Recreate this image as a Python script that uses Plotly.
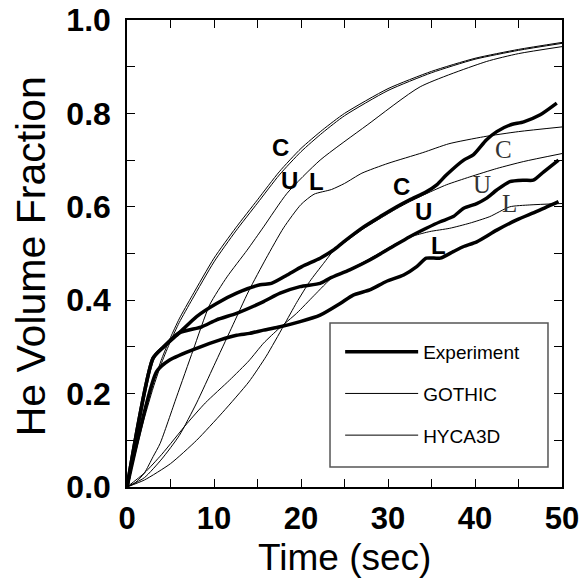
import plotly.graph_objects as go

# ---------------- data ----------------
# Experiment (thick)
exp_c_t = [0, 3.0, 4.2, 6.0, 8.0, 10.3, 12.6, 15.3, 16.6, 18.4, 20.1, 22.2, 23.7, 24.9, 27.2, 29.1, 31.0, 32.5, 34.4, 35.6, 36.7, 38.7, 39.8, 41.3, 42.5, 44.0, 45.6, 47.5, 49.4]
exp_c_y = [0, 0.276, 0.30, 0.33, 0.365, 0.393, 0.415, 0.433, 0.436, 0.454, 0.472, 0.49, 0.507, 0.525, 0.557, 0.579, 0.60, 0.615, 0.632, 0.647, 0.668, 0.70, 0.711, 0.743, 0.761, 0.775, 0.782, 0.797, 0.822]

exp_u_t = [0, 3.0, 4.2, 6.0, 8.6, 10.3, 12.6, 15.7, 17.6, 19.9, 22.2, 23.3, 25.6, 27.9, 30.2, 32.5, 34.4, 36.0, 37.5, 38.7, 40.2, 41.3, 42.5, 44.0, 45.6, 46.7, 47.9, 49.6]
exp_u_y = [0, 0.276, 0.30, 0.33, 0.343, 0.358, 0.372, 0.397, 0.415, 0.429, 0.436, 0.447, 0.465, 0.486, 0.511, 0.536, 0.554, 0.568, 0.579, 0.597, 0.607, 0.618, 0.636, 0.654, 0.657, 0.657, 0.675, 0.70]

exp_l_t = [0, 3.4, 4.9, 8.0, 10.7, 12.6, 14.1, 15.7, 17.6, 19.9, 22.2, 24.5, 26.0, 27.9, 29.8, 31.8, 33.3, 34.4, 36.0, 37.5, 38.7, 40.2, 42.5, 44.8, 47.1, 49.6]
exp_l_y = [0, 0.247, 0.272, 0.297, 0.315, 0.325, 0.329, 0.336, 0.343, 0.354, 0.368, 0.393, 0.411, 0.422, 0.44, 0.454, 0.472, 0.49, 0.49, 0.504, 0.515, 0.525, 0.55, 0.572, 0.59, 0.611]

# GOTHIC (thin, fast rising)
got_c_t = [0, 1, 2, 3, 4, 5, 6, 7.5, 10, 12.5, 15, 17.5, 20, 22.5, 25, 30, 35, 40, 45, 50]
got_c_y = [0, 0.08, 0.155, 0.22, 0.275, 0.32, 0.36, 0.41, 0.49, 0.555, 0.615, 0.675, 0.725, 0.765, 0.80, 0.853, 0.89, 0.918, 0.937, 0.952]

got_u_t = [0, 1, 2, 3, 4, 5, 6, 7.5, 10, 12.5, 15, 17.5, 20, 22.5, 25, 30, 35, 40, 45, 50]
got_u_y = [0, 0.075, 0.148, 0.212, 0.267, 0.312, 0.352, 0.402, 0.482, 0.548, 0.608, 0.668, 0.718, 0.759, 0.795, 0.849, 0.887, 0.916, 0.935, 0.95]

got_l_t = [0, 1, 2, 3, 3.8, 5.7, 7.6, 9.5, 11.5, 13.8, 15.7, 18.4, 22.2, 27.6, 33.7, 41.3, 45, 50]
got_l_y = [0, 0.01, 0.03, 0.065, 0.093, 0.193, 0.293, 0.39, 0.45, 0.507, 0.557, 0.629, 0.70, 0.775, 0.857, 0.911, 0.928, 0.943]

# HYCA3D (thin, slower)
hyc_c_t = [0, 2, 4, 6, 8, 10, 12, 14, 16, 18, 20, 21.5, 23.5, 25, 27, 30, 34, 37, 41, 45, 50]
hyc_c_y = [0, 0.02, 0.06, 0.11, 0.18, 0.26, 0.34, 0.42, 0.49, 0.555, 0.605, 0.627, 0.637, 0.65, 0.672, 0.693, 0.716, 0.735, 0.75, 0.761, 0.771]

hyc_u_t = [0, 2, 5, 8, 11, 14, 16, 18, 19.5, 21, 22.6, 23.7, 24.9, 27.2, 29.1, 31.0, 32.5, 34.4, 36.7, 39.4, 42.5, 45.6, 50]
hyc_u_y = [0, 0.015, 0.05, 0.10, 0.16, 0.225, 0.28, 0.345, 0.395, 0.44, 0.479, 0.505, 0.522, 0.553, 0.575, 0.596, 0.611, 0.628, 0.647, 0.664, 0.682, 0.697, 0.714]

hyc_l_t = [0, 2, 4, 6.9, 9, 11.8, 14, 15.7, 17.5, 19.5, 21.5, 23.7, 26, 28.3, 31, 33, 34.8, 37.1, 39.4, 41.7, 44, 46.3, 50]
hyc_l_y = [0, 0.03, 0.07, 0.136, 0.18, 0.229, 0.27, 0.308, 0.34, 0.372, 0.41, 0.45, 0.47, 0.493, 0.522, 0.538, 0.547, 0.554, 0.565, 0.579, 0.60, 0.604, 0.607]

# labels
bold_lab_text = ["C", "U", "L", "C", "U", "L"]
bold_lab_t = [17.6, 18.7, 21.8, 31.6, 34.1, 35.8]
bold_lab_y = [0.726, 0.657, 0.654, 0.643, 0.59, 0.518]
serif_lab_text = ["C", "U", "L"]
serif_lab_t = [43.3, 40.8, 44.0]
serif_lab_y = [0.722, 0.647, 0.607]

x_ticks = [0, 5, 10, 15, 20, 25, 30, 35, 40, 45, 50]
x_ticktext = ["0", "", "10", "", "20", "", "30", "", "40", "", "50"]
y_ticks = [0, 0.1, 0.2, 0.3, 0.4, 0.5, 0.6, 0.7, 0.8, 0.9, 1.0]
y_ticktext = ["0.0", "", "0.2", "", "0.4", "", "0.6", "", "0.8", "", "1.0"]

x_title = "Time (sec)"
y_title = "He Volume Fraction"

# ---------------- figure ----------------
fig = go.Figure()
thick = dict(color="black", width=3.5)
thin = dict(color="black", width=1)

series = [
    (exp_c_t, exp_c_y, thick, "Experiment", True, "g1"),
    (exp_u_t, exp_u_y, thick, "Experiment", False, "g1"),
    (exp_l_t, exp_l_y, thick, "Experiment", False, "g1"),
    (got_c_t, got_c_y, thin, "GOTHIC", True, "g2"),
    (got_u_t, got_u_y, thin, "GOTHIC", False, "g2"),
    (got_l_t, got_l_y, thin, "GOTHIC", False, "g2"),
    (hyc_c_t, hyc_c_y, thin, "HYCA3D", True, "g3"),
    (hyc_u_t, hyc_u_y, thin, "HYCA3D", False, "g3"),
    (hyc_l_t, hyc_l_y, thin, "HYCA3D", False, "g3"),
]
for t, y, ln, name, show, grp in series:
    fig.add_trace(go.Scatter(x=t, y=y, mode="lines", line=ln, name=name,
                             showlegend=show, legendgroup=grp, line_shape="spline",
                             line_smoothing=0.6, hoverinfo="skip"))

for txt, t, y in zip(bold_lab_text, bold_lab_t, bold_lab_y):
    fig.add_annotation(x=t, y=y, text="<b>" + txt + "</b>", showarrow=False,
                       font=dict(family="Liberation Sans, Arial", size=24, color="black"))
for txt, t, y in zip(serif_lab_text, serif_lab_t, serif_lab_y):
    fig.add_annotation(x=t, y=y, text=txt, showarrow=False,
                       font=dict(family="Liberation Serif, Times New Roman", size=25, color="#333"))

# axis titles
fig.add_annotation(x=0.5, y=-0.152, xref="paper", yref="paper", text=x_title,
                   showarrow=False, xanchor="center", yanchor="middle",
                   font=dict(family="Liberation Sans, Arial", size=37, color="black"))
fig.add_annotation(x=-0.222, y=0.495, xref="paper", yref="paper", text=y_title,
                   showarrow=False, xanchor="center", yanchor="middle", textangle=-90,
                   font=dict(family="Liberation Sans, Arial", size=41, color="black"))

# legend box
fig.add_shape(type="rect", xref="paper", yref="paper",
              x0=0.4667, x1=0.9678, y0=0.043, y1=0.351,
              line=dict(color="#555", width=1.5), fillcolor="rgba(0,0,0,0)")

fig.update_layout(
    width=587, height=587,
    margin=dict(l=127, r=25, t=20, b=100),
    paper_bgcolor="white", plot_bgcolor="white",
    font=dict(family="Liberation Sans, Arial", color="black"),
    legend=dict(x=0.49, y=0.33, xanchor="left", yanchor="top",
                bgcolor="rgba(0,0,0,0)", borderwidth=0,
                font=dict(size=19, family="Liberation Sans, Arial"),
                traceorder="grouped", tracegroupgap=14, itemwidth=73),
)
fig.update_xaxes(range=[0, 50], tickvals=x_ticks, ticktext=x_ticktext,
                 ticks="inside", ticklen=8, tickwidth=1.2, tickcolor="black",
                 showline=True, linecolor="black", linewidth=1.5, mirror="ticks",
                 showgrid=False, zeroline=False, automargin=False,
                 tickfont=dict(size=31, family="Liberation Sans, Arial", weight="bold"),
                 ticklabelstandoff=3)
fig.update_yaxes(range=[0, 1.0], tickvals=y_ticks, ticktext=y_ticktext,
                 ticks="inside", ticklen=8, tickwidth=1.2, tickcolor="black",
                 showline=True, linecolor="black", linewidth=1.5, mirror="ticks",
                 showgrid=False, zeroline=False, automargin=False,
                 tickfont=dict(size=32, family="Liberation Sans, Arial", weight="bold"),
                 ticklabelstandoff=8)

fig.write_html("out.html", config={"displayModeBar": False},
               post_script="document.body.style.margin='0';")
